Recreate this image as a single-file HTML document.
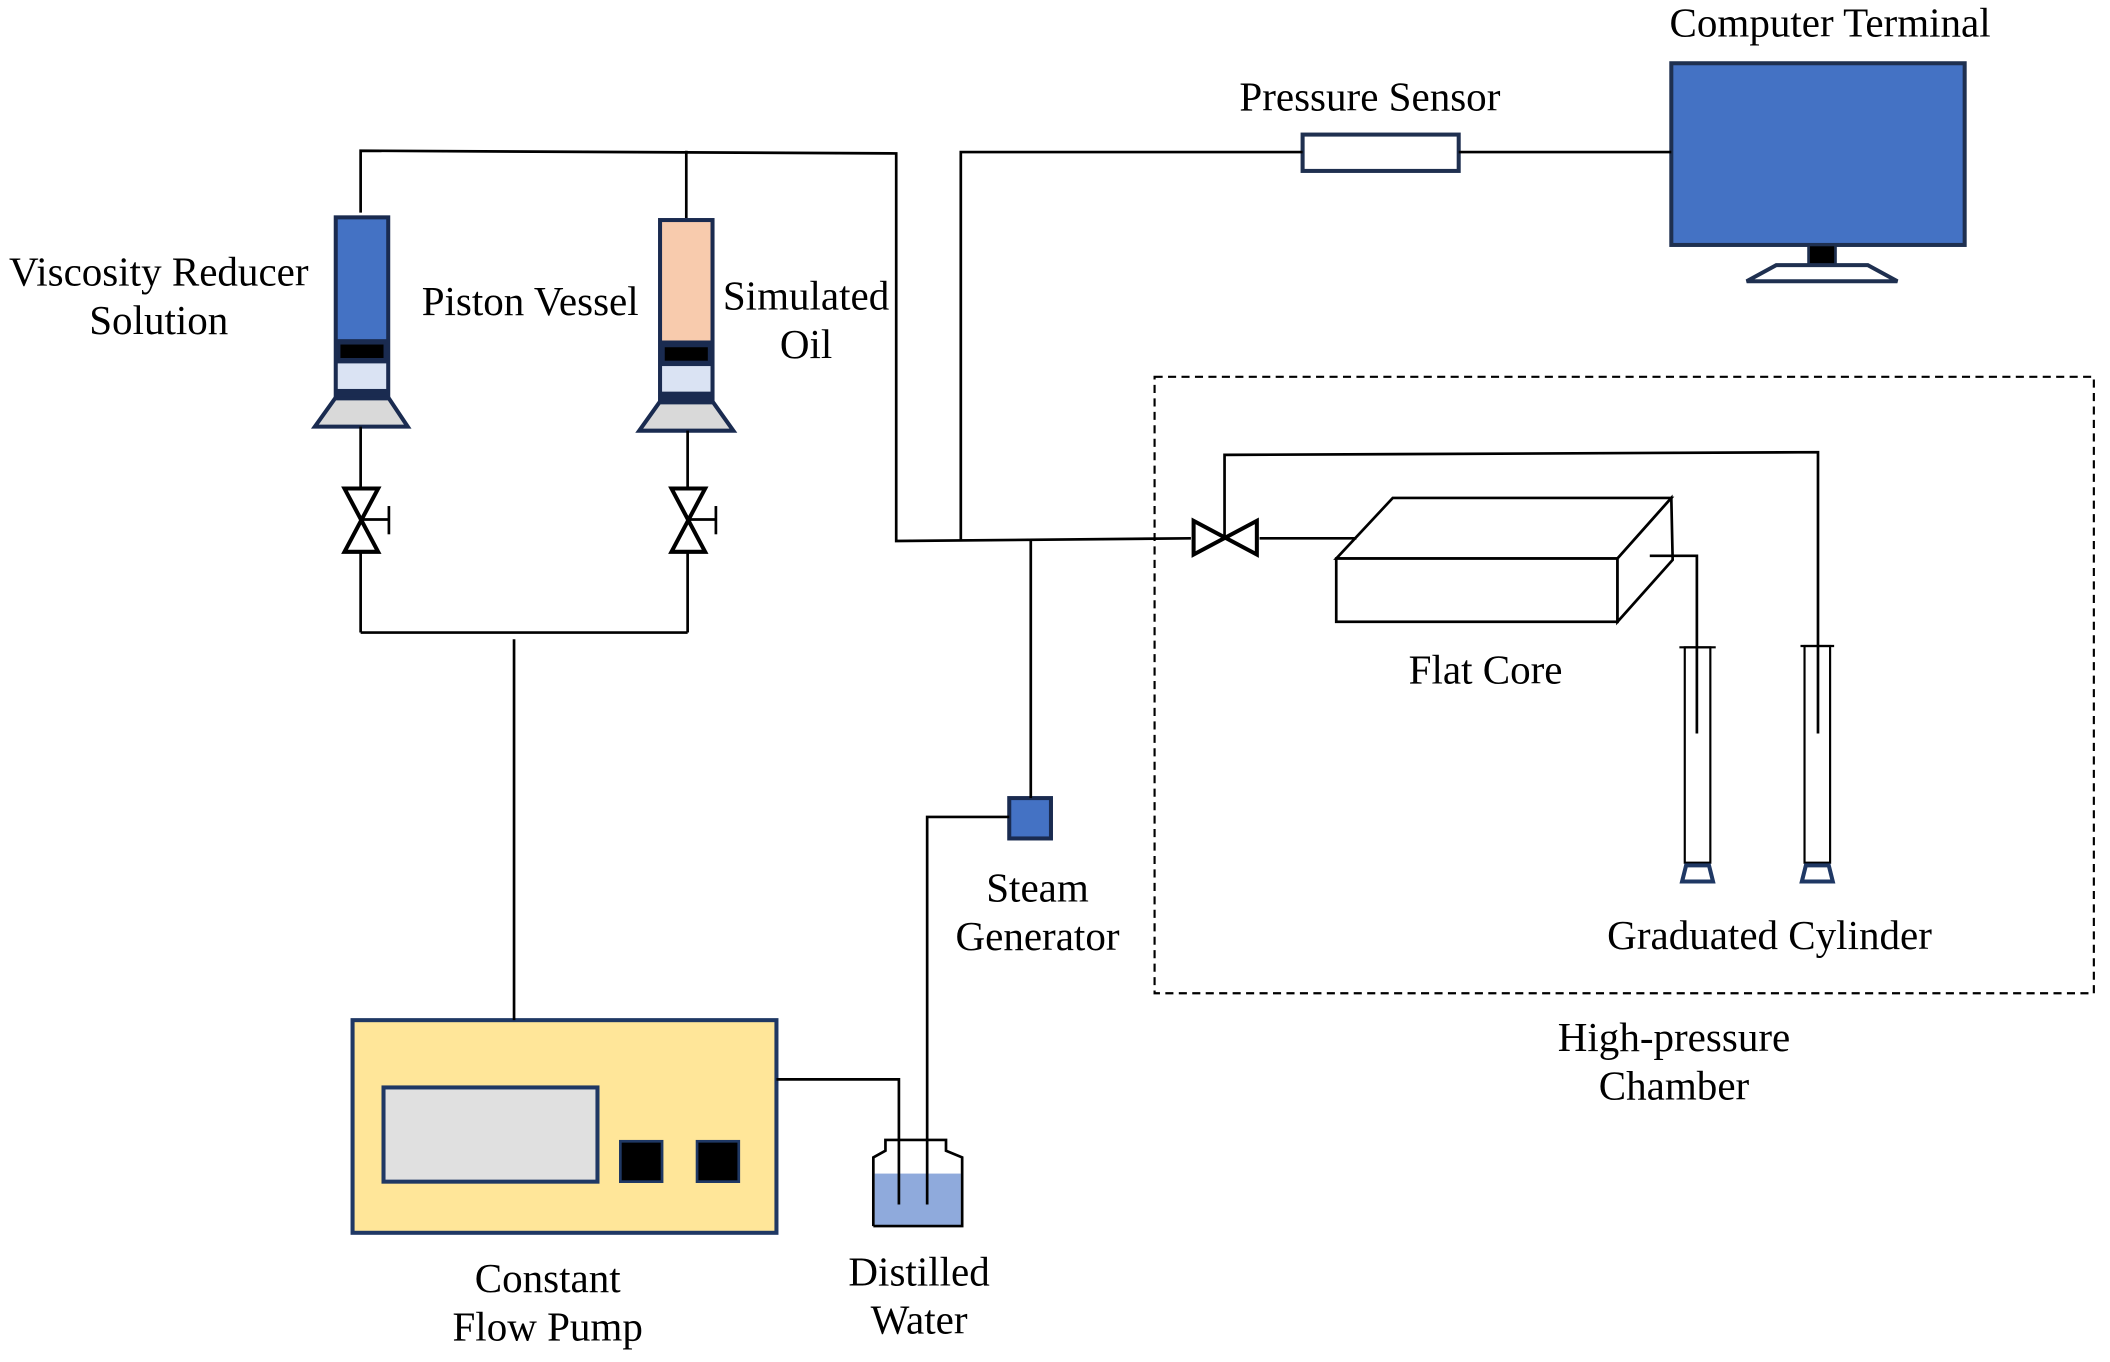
<!DOCTYPE html>
<html><head><meta charset="utf-8"><style>
html,body{margin:0;padding:0;background:#fff}
svg{display:block}
text{font-family:"Liberation Serif","Times New Roman",Times,"DejaVu Serif",serif;font-size:30.5px;fill:#000}
</style></head><body>
<svg width="2110" height="1362" viewBox="0 0 1568 1012" preserveAspectRatio="none" xmlns="http://www.w3.org/2000/svg">
<rect x="858" y="280" width="698" height="458" fill="none" stroke="#000" stroke-width="1.6" stroke-dasharray="6,4"/>
<rect x="968" y="100" width="116" height="27" fill="#fff" stroke="#1f3050" stroke-width="3"/>
<rect x="1242" y="47" width="218" height="135" fill="#4472c4" stroke="#1f3050" stroke-width="3"/>
<rect x="1344" y="182" width="20" height="18" fill="#000" stroke="#1f3050" stroke-width="2"/>
<polygon points="1320,197 1388,197 1410,209 1298,209" fill="#fff" stroke="#1f3050" stroke-width="3"/>
<rect x="248" y="160" width="42" height="138" fill="#1a2b50"/>
<rect x="251" y="163" width="36" height="89" fill="#4472c4"/>
<rect x="253" y="256" width="32" height="10" fill="#000"/>
<rect x="251" y="270" width="36" height="19" fill="#dae3f3"/>
<polygon points="249,296 289,296 303,317 234,317" fill="#d9d9d9" stroke="#1a2b50" stroke-width="3"/>
<rect x="489" y="162" width="42" height="139" fill="#1a2b50"/>
<rect x="492" y="165" width="36" height="88" fill="#f8cbad"/>
<rect x="494" y="258" width="32" height="10" fill="#000"/>
<rect x="492" y="272" width="36" height="19" fill="#dae3f3"/>
<polygon points="490,299 530,299 545,320 475,320" fill="#d9d9d9" stroke="#1a2b50" stroke-width="3"/>
<rect x="262" y="758" width="315" height="158" fill="#ffe699" stroke="#1f3864" stroke-width="3"/>
<rect x="285" y="808" width="159" height="70" fill="#e0e0e0" stroke="#1f3864" stroke-width="3"/>
<rect x="461" y="848" width="31" height="30" fill="#000" stroke="#1f3864" stroke-width="2"/>
<rect x="518" y="848" width="31" height="30" fill="#000" stroke="#1f3864" stroke-width="2"/>
<rect x="650" y="872" width="64" height="39" fill="#8faadc"/>
<polyline points="649,911 649,860 658,855 658,847 703,847 703,855 715,860 715,911 649,911" fill="none" stroke="#000" stroke-width="2"/>
<rect x="750" y="593" width="31" height="30" fill="#4472c4" stroke="#1a2b50" stroke-width="3"/>
<g fill="#fff" stroke="#000" stroke-width="2">
<polygon points="993,415 1035,370 1242,370 1202,415"/>
<rect x="993" y="415" width="209" height="47"/>
<polygon points="1202,415 1242,370 1243,416 1202,462"/>
</g>
<g fill="none" stroke="#000" stroke-width="2">
<polyline points="268,158 268,112 666,114 666,402 885,400"/>
<line x1="510" y1="112" x2="510" y2="162"/>
<polyline points="714,402 714,113 968,113"/>
<line x1="1084" y1="113" x2="1242" y2="113"/>
<line x1="268" y1="317" x2="268" y2="470"/>
<line x1="511" y1="320" x2="511" y2="470"/>
<line x1="268" y1="470" x2="511" y2="470"/>
<line x1="382" y1="475" x2="382" y2="758"/>
<polyline points="577,802 668,802 668,895"/>
<polyline points="689,895 689,607 750,607"/>
<line x1="766" y1="593" x2="766" y2="402"/>
<line x1="936" y1="400" x2="1008" y2="400"/>
<polyline points="910,400 910,338 1351,336 1351,545"/>
<polyline points="1226,413 1261,413 1261,545"/>
</g>
<g fill="#fff" stroke="#000" stroke-width="3">
<polygon points="256,363 281,363 256,410 281,410"/>
<polygon points="499,363 524,363 499,410 524,410"/>
<polygon points="887,387 887,412 934,387 934,412"/>
</g>
<g stroke="#000" stroke-width="2">
<line x1="268" y1="386" x2="289" y2="386"/><line x1="289" y1="376" x2="289" y2="397"/>
<line x1="511" y1="386" x2="532" y2="386"/><line x1="532" y1="376" x2="532" y2="397"/>
</g>
<g fill="none" stroke="#000" stroke-width="1.6">
<rect x="1252" y="481" width="19" height="160"/>
<line x1="1248" y1="481" x2="1275" y2="481"/>
<rect x="1341" y="480" width="19" height="161"/>
<line x1="1338" y1="480" x2="1363" y2="480"/>
</g>
<g fill="#fff" stroke="#1f3864" stroke-width="3">
<polygon points="1253,643 1270,643 1273,655 1250,655"/>
<polygon points="1342,643 1359,643 1362,655 1339,655"/>
</g>
<text x="1360" y="27" text-anchor="middle">Computer Terminal</text>
<text x="1018" y="82" text-anchor="middle">Pressure Sensor</text>
<text x="118" y="212" text-anchor="middle">Viscosity Reducer</text>
<text x="118" y="248" text-anchor="middle">Solution</text>
<text x="394" y="234" text-anchor="middle">Piston Vessel</text>
<text x="599" y="230" text-anchor="middle">Simulated</text>
<text x="599" y="266" text-anchor="middle">Oil</text>
<text x="1104" y="508" text-anchor="middle">Flat Core</text>
<text x="771" y="670" text-anchor="middle">Steam</text>
<text x="771" y="706" text-anchor="middle">Generator</text>
<text x="1315" y="705" text-anchor="middle">Graduated Cylinder</text>
<text x="1244" y="781" text-anchor="middle">High-pressure</text>
<text x="1244" y="817" text-anchor="middle">Chamber</text>
<text x="407" y="960" text-anchor="middle">Constant</text>
<text x="407" y="996" text-anchor="middle">Flow Pump</text>
<text x="683" y="955" text-anchor="middle">Distilled</text>
<text x="683" y="991" text-anchor="middle">Water</text>
</svg>
</body></html>
